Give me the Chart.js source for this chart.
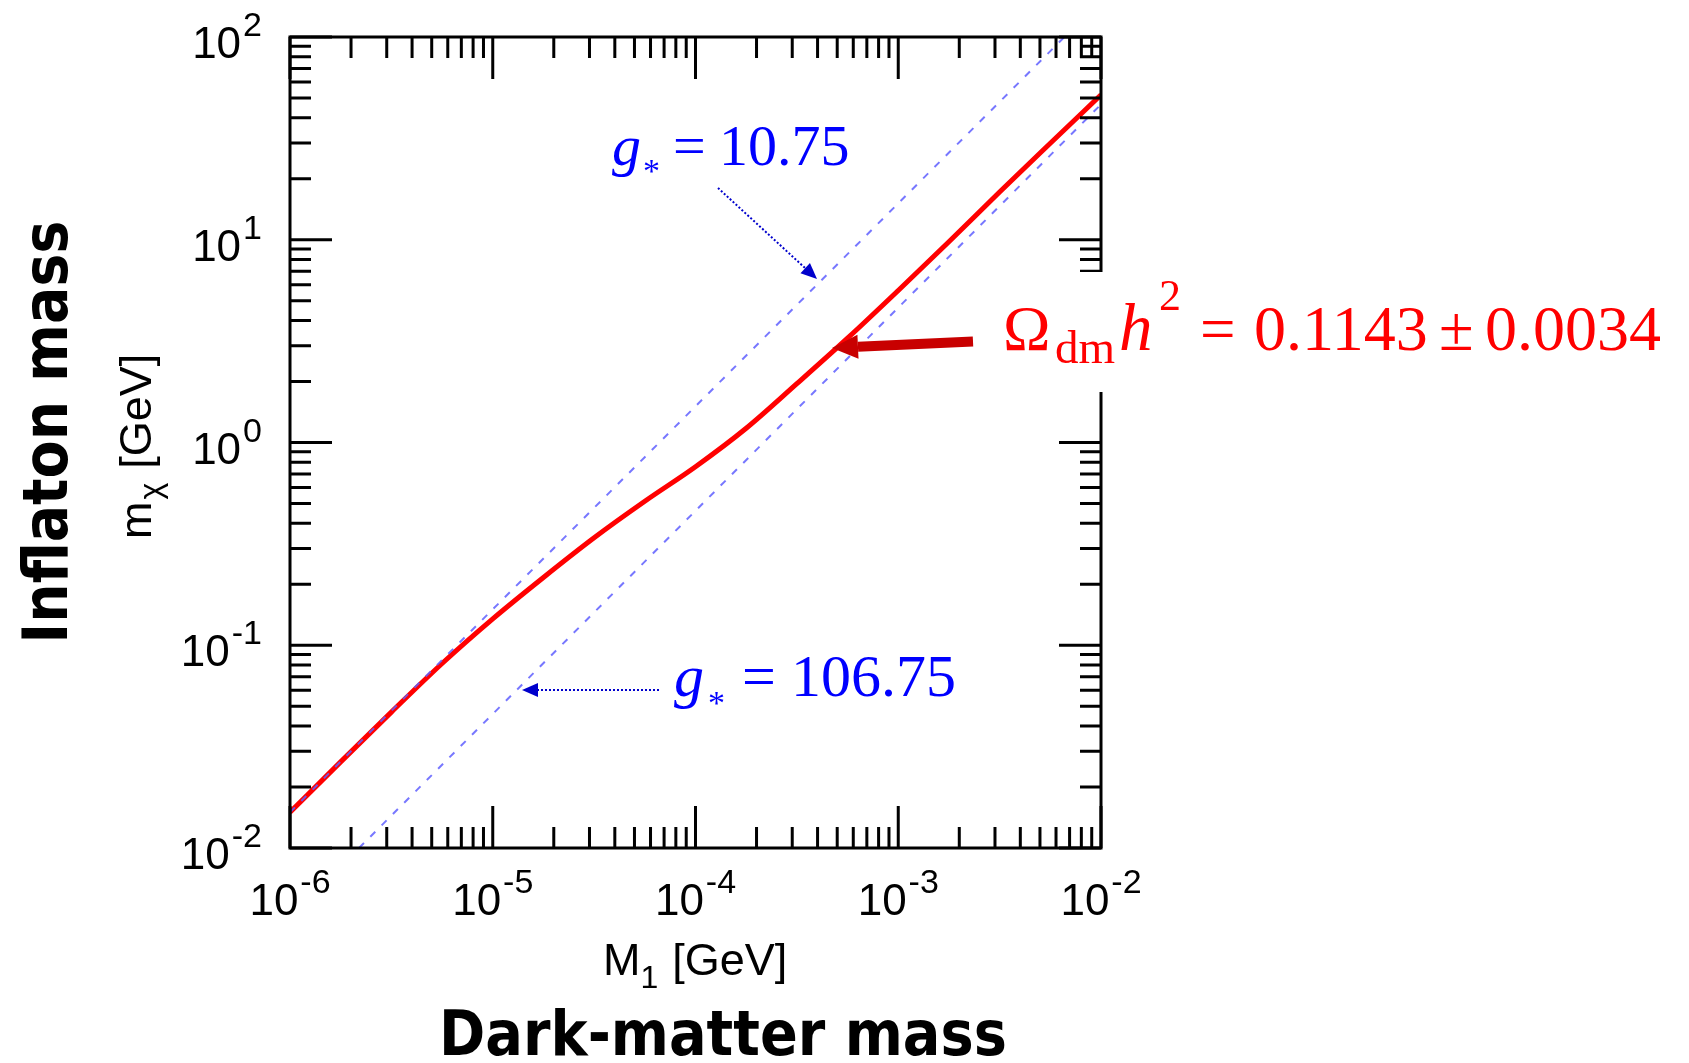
<!DOCTYPE html>
<html>
<head>
<meta charset="utf-8">
<script src="https://cdn.jsdelivr.net/npm/chart.js@4.4.1/dist/chart.umd.min.js"></script>
<style>
  html, body { margin:0; padding:0; background:#fff; }
  #wrap { width:1689px; height:1063px; }
</style>
</head>
<body>
<div id="wrap"><canvas id="chart" width="1689" height="1063"></canvas></div>
<script>
/* ── Data ─────────────────────────────────── */
// relic-abundance curve: M1 [GeV] -> m_chi [GeV]
const m1Grid    = [1e-6, 1.778e-6, 3.162e-6, 5.623e-6, 1e-5, 1.778e-5, 3.162e-5, 5.623e-5, 1e-4,
                   1.778e-4, 3.162e-4, 5.623e-4, 1e-3, 1.778e-3, 3.162e-3, 5.623e-3, 1e-2];
const mChiRelic = [0.0150, 0.0266, 0.0468, 0.0813, 0.135, 0.216, 0.339, 0.513, 0.759,
                   1.175, 1.95, 3.27, 5.62, 9.77, 17.2, 29.9, 51.8];

// dashed reference lines
const g10M1    = [1e-6, 6.6e-3];
const g10Mchi  = [0.0150, 100];
const g106M1   = [2.19e-6, 1e-2];
const g106Mchi = [0.01, 46.5];

// decade tick exponents
const xExps = [-6, -5, -4, -3, -2];
const yExps = [-2, -1, 0, 1, 2];

const SANS  = '"Liberation Sans", Arial, sans-serif';
const SERIF = '"Liberation Serif", "Times New Roman", serif';
const BOLD  = '"DejaVu Sans", sans-serif';

const pts = (xs, ys) => xs.map((v, i) => ({ x: v, y: ys[i] }));

/* ── helpers ───────────────────────────── */
function runWidth(ctx, parts) {
  return parts.reduce((w, p) => { ctx.font = p.f; return w + ctx.measureText(p.t).width + (p.gap || 0); }, 0);
}
function drawRun(ctx, x, y, parts) {
  parts.forEach(p => {
    ctx.font = p.f;
    if (p.x != null) x = p.x;
    ctx.fillText(p.t, x, y + (p.dy || 0));
    x += ctx.measureText(p.t).width + (p.gap || 0);
  });
}
function arrow(ctx, x0, y0, x1, y1, o) {
  const ang = Math.atan2(y1 - y0, x1 - x0);
  const bx = x1 - o.head * Math.cos(ang), by = y1 - o.head * Math.sin(ang);
  ctx.save();
  ctx.strokeStyle = o.color; ctx.fillStyle = o.color; ctx.lineWidth = o.width;
  ctx.setLineDash(o.dash || []);
  ctx.beginPath(); ctx.moveTo(x0, y0); ctx.lineTo(bx, by); ctx.stroke();
  ctx.setLineDash([]);
  ctx.beginPath(); ctx.moveTo(x1, y1);
  ctx.lineTo(bx + o.half * Math.sin(ang), by - o.half * Math.cos(ang));
  ctx.lineTo(bx - o.half * Math.sin(ang), by + o.half * Math.cos(ang));
  ctx.closePath(); ctx.fill();
  ctx.restore();
}
function fitFont(ctx, text, family, width) {
  ctx.font = `bold 100px ${family}`;
  const s = 100 * width / ctx.measureText(text).width;
  return `bold ${s.toFixed(1)}px ${family}`;
}

/* ── frame, ticks, labels, notes ───────── */
const framePlugin = {
  id: 'frame',
  afterDraw(chart) {
    const { ctx, chartArea: a, scales: { x, y } } = chart;
    ctx.save();

    // box + inner ticks on all four sides
    ctx.strokeStyle = '#000'; ctx.lineWidth = 3; ctx.lineCap = 'butt';
    ctx.strokeRect(a.left, a.top, a.right - a.left, a.bottom - a.top);
    ctx.beginPath();
    const tickVals = exps => {
      const out = [];
      for (let e = exps[0]; e < exps[exps.length - 1]; e++)
        for (let k = 1; k < 10; k++) out.push([k * 10 ** e, k === 1]);
      out.push([10 ** exps[exps.length - 1], true]);
      return out;
    };
    tickVals(xExps).forEach(([v, major]) => {
      const px = x.getPixelForValue(v), len = major ? 42 : 21;
      ctx.moveTo(px, a.bottom); ctx.lineTo(px, a.bottom - len);
      ctx.moveTo(px, a.top);    ctx.lineTo(px, a.top + len);
    });
    tickVals(yExps).forEach(([v, major]) => {
      const py = y.getPixelForValue(v), len = major ? 42 : 21;
      ctx.moveTo(a.left, py);  ctx.lineTo(a.left + len, py);
      ctx.moveTo(a.right, py); ctx.lineTo(a.right - len, py);
    });
    ctx.stroke();

    // white box behind the relic-density label (cuts the right axis)
    ctx.fillStyle = '#fff';
    ctx.fillRect(990, 272, 699, 120);

    // tick labels 10^n
    ctx.fillStyle = '#000';
    ctx.textBaseline = 'alphabetic'; ctx.textAlign = 'left';
    const tl = e => [{ t: '10', f: `44px ${SANS}`, gap: 2 }, { t: String(e), f: `34px ${SANS}`, dy: -22 }];
    xExps.forEach(e => {
      const parts = tl(e), w = runWidth(ctx, parts);
      drawRun(ctx, x.getPixelForValue(10 ** e) - w / 2, 915, parts);
    });
    yExps.forEach(e => {
      const parts = tl(e), w = runWidth(ctx, parts);
      drawRun(ctx, 262 - w, y.getPixelForValue(10 ** e) + 21, parts);
    });

    // axis titles
    drawRun(ctx, 603, 975, [
      { t: 'M', f: `45px ${SANS}` },
      { t: '1', f: `32px ${SANS}`, dy: 13, gap: 14 },
      { t: '[GeV]', f: `45px ${SANS}` },
    ]);
    ctx.save();
    ctx.translate(151, 539); ctx.rotate(-Math.PI / 2);
    drawRun(ctx, 0, 0, [
      { t: 'm', f: `45px ${SANS}`, gap: 2 },
      { t: 'χ', f: `32px ${SANS}`, dy: 10, gap: 14 },
      { t: '[GeV]', f: `45px ${SANS}` },
    ]);
    ctx.restore();

    // big plain-language labels (a little taller than the fitted font)
    ctx.textAlign = 'center';
    ctx.save();
    ctx.translate(723, 1055); ctx.scale(1, 1.12);
    ctx.font = fitFont(ctx, 'Dark-matter mass', BOLD, 568);
    ctx.fillText('Dark-matter mass', 0, 0);
    ctx.restore();
    ctx.save();
    ctx.translate(67, 432); ctx.rotate(-Math.PI / 2); ctx.scale(1, 1.12);
    ctx.font = fitFont(ctx, 'Inflaton mass', BOLD, 423);
    ctx.fillText('Inflaton mass', 0, 0);
    ctx.restore();
    ctx.textAlign = 'left';

    // g* annotations
    ctx.fillStyle = '#0000ff';
    drawRun(ctx, 612, 165, [
      { t: 'g', f: `italic 58px ${SERIF}`, x: 612 },
      { t: '*', f: `34px ${SERIF}`, x: 643, dy: 17 },
      { t: '=', f: `58px ${SERIF}`, x: 673 },
      { t: '10.75', f: `58px ${SERIF}`, x: 719 },
    ]);
    drawRun(ctx, 674, 696, [
      { t: 'g', f: `italic 60px ${SERIF}`, x: 674 },
      { t: '*', f: `34px ${SERIF}`, x: 708, dy: 18 },
      { t: '=', f: `60px ${SERIF}`, x: 742 },
      { t: '106.75', f: `60px ${SERIF}`, x: 791 },
    ]);
    arrow(ctx, 718, 188, 817, 279, { color: '#0000cc', width: 2, dash: [2, 2], head: 16, half: 7 });
    arrow(ctx, 659, 690, 522, 690, { color: '#0000cc', width: 2, dash: [2, 2], head: 16, half: 7 });

    // relic density label
    ctx.fillStyle = '#ff0000';
    drawRun(ctx, 1004, 350, [
      { t: 'Ω', f: `64px ${SERIF}`, x: 1003 },
      { t: 'dm', f: `47px ${SERIF}`, x: 1055, dy: 13 },
      { t: 'h', f: `italic 67px ${SERIF}`, x: 1119 },
      { t: '2', f: `44px ${SERIF}`, x: 1159, dy: -40 },
      { t: '=', f: `63px ${SERIF}`, x: 1200 },
      { t: '0.1143', f: `64px ${SERIF}`, x: 1254 },
      { t: '±', f: `63px ${SERIF}`, x: 1439 },
      { t: '0.0034', f: `64px ${SERIF}`, x: 1485 },
    ]);
    arrow(ctx, 973, 341.5, 832, 348, { color: '#c80000', width: 10, head: 26, half: 12 });

    ctx.restore();
  },
};

/* ── Chart ─────────────────────────────── */
new Chart(document.getElementById('chart'), {
  type: 'line',
  data: {
    datasets: [
      { label: 'g* = 10.75',  data: pts(g10M1, g10Mchi),   borderColor: 'rgba(95,95,255,0.85)', borderWidth: 2, borderDash: [7, 9], pointRadius: 0 },
      { label: 'g* = 106.75', data: pts(g106M1, g106Mchi), borderColor: 'rgba(95,95,255,0.85)', borderWidth: 2, borderDash: [7, 9], pointRadius: 0 },
      { label: 'Ωdm h² = 0.1143 ± 0.0034', data: pts(m1Grid, mChiRelic), borderColor: '#ff0000', borderWidth: 5,
        pointRadius: 0, cubicInterpolationMode: 'monotone' },
    ],
  },
  options: {
    responsive: false,
    animation: false,
    devicePixelRatio: 1,
    layout: { padding: { left: 290, top: 37, right: 588, bottom: 215 } },
    plugins: { legend: { display: false }, tooltip: { enabled: false } },
    scales: {
      x: { type: 'logarithmic', min: 1e-6, max: 1e-2, display: false },
      y: { type: 'logarithmic', min: 1e-2, max: 1e2, display: false },
    },
  },
  plugins: [framePlugin],
});
</script>
</body>
</html>
